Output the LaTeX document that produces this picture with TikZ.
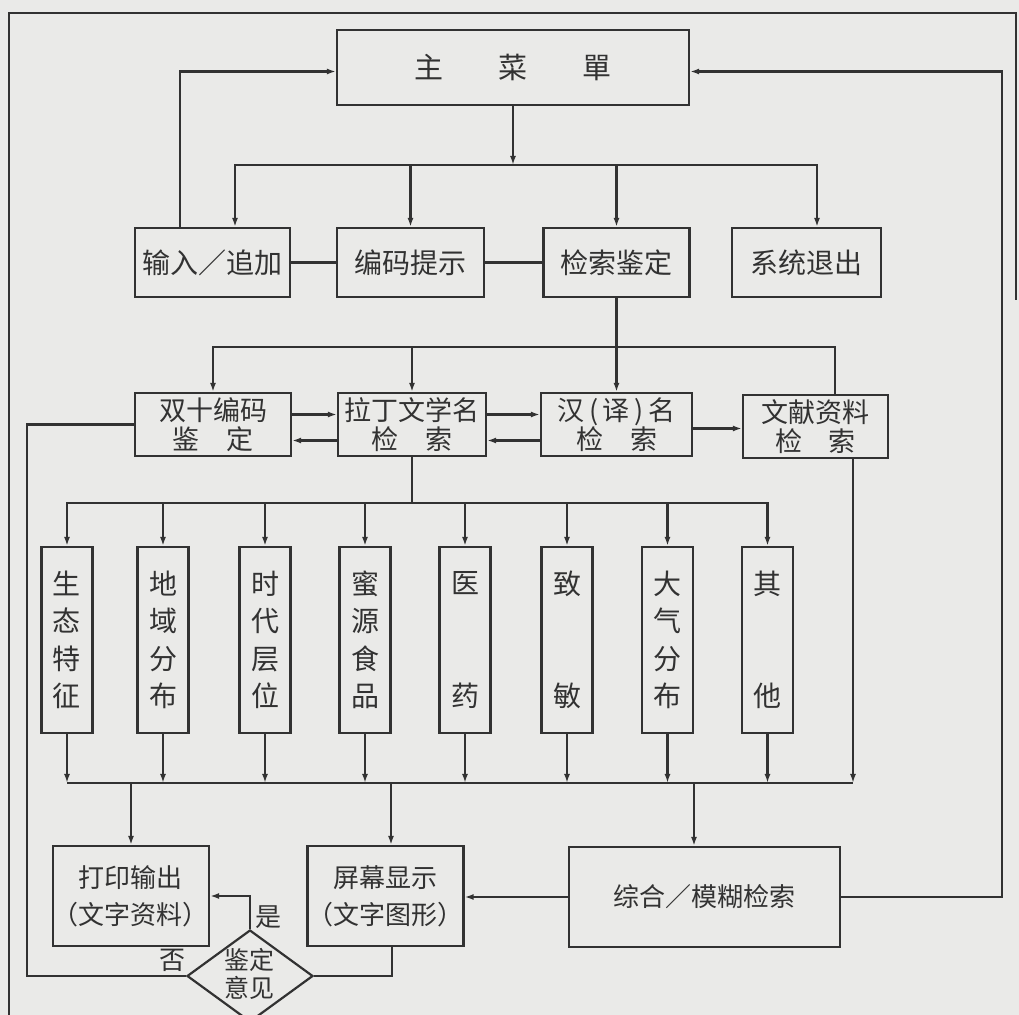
\documentclass[tikz,border=0pt]{standalone}
\usepackage{fontspec}
\setmainfont{Noto Sans CJK SC}
\usetikzlibrary{arrows.meta,positioning,calc,shapes.geometric}
\definecolor{paper}{RGB}{234,234,232}
\definecolor{ink}{RGB}{50,50,50}

\begin{document}
\begin{tikzpicture}[x=0.5pt,y=-0.5pt, line width=1.1pt, color=ink,
    box/.style={draw, rectangle, inner sep=0pt, align=center, font=\fontsize{13.5pt}{14.5pt}\selectfont},
    wordbox/.style={box, minimum height=34.5pt, font=\fontsize{14pt}{14pt}\selectfont},
    tallbox/.style={box, minimum width=25.5pt, minimum height=93pt, font=\fontsize{14pt}{18.75pt}\selectfont},
    outbox/.style={box, minimum height=50pt, font=\fontsize{13pt}{18.5pt}\selectfont},
    arr/.style={-{Latex[length=4.5pt,width=3pt]}},
    lbl/.style={font=\fontsize{13pt}{13pt}\selectfont}]
  \useasboundingbox (0,0) rectangle (1019,1015);
  \fill[paper] (0,0) rectangle (1019,1015);

  \node[box, minimum width=176pt, minimum height=37.5pt, font=\fontsize{14.5pt}{14.5pt}\selectfont] (menu) at (513,67.5) {主\hspace{1.9em}菜\hspace{1.9em}單};

  \node[wordbox, minimum width=77.5pt] (input) at (212.5,262.5) {输入／追加};
  \node[wordbox, minimum width=73.5pt] (hint) at (410.5,262.5) {编码提示};
  \node[wordbox, minimum width=73pt] (search) at (616.5,262.5) {检索鉴定};
  \node[wordbox, minimum width=74.5pt] (quit) at (806.5,262.5) {系统退出};

  \node[box, minimum width=78pt, minimum height=31.5pt] (dual) at (213,424.5) {双十编码\\鉴\hspace{1em}定};
  \node[box, minimum width=74pt, minimum height=31.5pt] (latin) at (412,424.5) {拉丁文学名\\检\hspace{1em}索};
  \node[box, minimum width=75.5pt, minimum height=31.5pt] (chn) at (616.5,424.5) {汉\,(\,译\,)\,名\\检\hspace{1em}索};
  \node[box, minimum width=72.5pt, minimum height=31.5pt] (lit) at (815.5,426.5) {文献资料\\检\hspace{1em}索};

  \node[tallbox] (eco) at (67,640) {生\\态\\特\\征};
  \node[tallbox] (geo) at (163,640) {地\\域\\分\\布};
  \node[tallbox] (era) at (265,640) {时\\代\\层\\位};
  \node[tallbox] (food) at (365,640) {蜜\\源\\食\\品};
  \node[tallbox] (med) at (465,640) {医\\[37.5pt]药};
  \node[tallbox] (allergy) at (567,640) {致\\[37.5pt]敏};
  \node[tallbox] (air) at (667.5,640) {大\\气\\分\\布};
  \node[tallbox] (other) at (767.5,640) {其\\[37.5pt]他};

  \node[outbox, minimum width=78pt] (print) at (131,896) {打印输出\\（文字资料）};
  \node[outbox, minimum width=77.5pt] (screen) at (385.5,896) {屏幕显示\\（文字图形）};
  \node[outbox, minimum width=135.5pt] (fuzzy) at (704.5,897) {综合／模糊检索};

  \node[draw, diamond, inner sep=0pt, minimum width=63pt, minimum height=46pt] (judge) at (250,976) {};
  \node[align=center, inner sep=0pt, font=\fontsize{12.5pt}{14pt}\selectfont] (judgetxt) at (249,974) {鉴定\\意见};
  \node[lbl] (yes) at (268,917) {是};
  \node[lbl] (no) at (172,960) {否};

  \draw (9,1030) -- (9,13) -- (1016,13) -- (1016,300);

  \coordinate (bus1) at (513,165);
  \draw[arr] (menu.south) -- (bus1);
  \draw[arr] (bus1) -| ([xshift=11.25pt]input.north);
  \draw[arr] (bus1) -| (hint.north);
  \draw[arr] (bus1) -| (search.north);
  \draw[arr] (bus1) -| ([xshift=5.25pt]quit.north);
  \draw[arr] ([xshift=-16.25pt]input.north) |- ([yshift=-2pt]menu.west);
  \draw[arr] (fuzzy.east) -- ++(161,0) |- ([yshift=-2pt]menu.east);
  \draw (input) -- (hint);
  \draw (hint) -- (search);

  \coordinate (bus2) at (616.5,347);
  \draw[arr] (search.south) -- (chn.north);
  \draw[arr] (bus2) -| (dual.north);
  \draw[arr] (bus2) -| (latin.north);
  \draw (bus2) -| ([xshift=9.75pt]lit.north);
  \draw[arr] ([yshift=5pt]dual.east) -- ([yshift=5pt]latin.west);
  \draw[arr] ([yshift=-8pt]latin.west) -- ([yshift=-8pt]dual.east);
  \draw[arr] ([yshift=5pt]latin.east) -- ([yshift=5pt]chn.west);
  \draw[arr] ([yshift=-8pt]chn.west) -- ([yshift=-8pt]latin.east);
  \draw[arr] ([yshift=-2pt]chn.east) -- ([yshift=-2pt]chn.east -| lit.west);

  \coordinate (bus3) at (412,503);
  \draw (latin.south) -- (bus3);
  \draw[arr] (bus3) -| (eco.north);
  \draw[arr] (bus3) -| (geo.north);
  \draw[arr] (bus3) -| (era.north);
  \draw[arr] (bus3) -| (food.north);
  \draw[arr] (bus3) -| (med.north);
  \draw[arr] (bus3) -| (allergy.north);
  \draw[arr] (bus3) -| (air.north);
  \draw[arr] (bus3) -| (other.north);

  \draw (dual.west) -- ++(-107,0) |- (judge.west);

  \coordinate (bus4) at (131,783);
  \coordinate (litdrop) at ([xshift=18.75pt]lit.south);
  \draw (eco.south |- bus4) -- (litdrop |- bus4);
  \draw[arr] (eco.south) -- (eco.south |- bus4);
  \draw[arr] (geo.south) -- (geo.south |- bus4);
  \draw[arr] (era.south) -- (era.south |- bus4);
  \draw[arr] (food.south) -- (food.south |- bus4);
  \draw[arr] (med.south) -- (med.south |- bus4);
  \draw[arr] (allergy.south) -- (allergy.south |- bus4);
  \draw[arr] (air.south) -- (air.south |- bus4);
  \draw[arr] (other.south) -- (other.south |- bus4);
  \draw[arr] (litdrop) -- (litdrop |- bus4);

  \coordinate (scrtop) at ([xshift=2.75pt]screen.north);
  \coordinate (scrbot) at ([xshift=3.25pt]screen.south);
  \coordinate (fuztop) at ([xshift=-5.25pt]fuzzy.north);
  \draw[arr] (bus4) -- (print.north);
  \draw[arr] (scrtop |- bus4) -- (scrtop);
  \draw[arr] (fuztop |- bus4) -- (fuztop);
  \draw[arr] (fuzzy.west) -- (fuzzy.west -| screen.east);
  \draw (scrbot) |- (judge.east);
  \draw[arr] (judge.north) |- (print.east);
\end{tikzpicture}
\end{document}
